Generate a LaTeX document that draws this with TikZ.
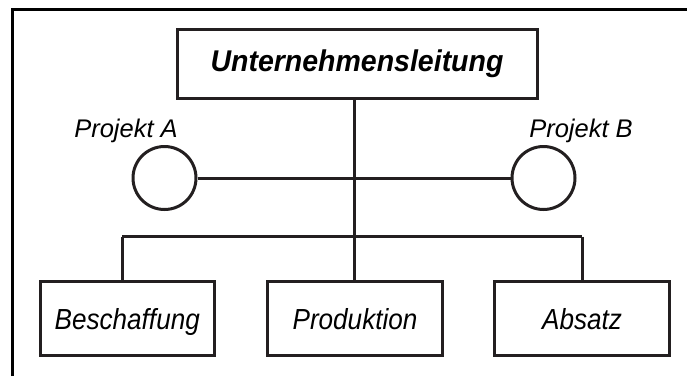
\documentclass[tikz,border=0pt]{standalone}
\usepackage{fontspec}
\setmainfont{Liberation Sans}
\newfontfamily\unitfont{Liberation Sans}[FakeStretch=0.9]
\newfontfamily\headfont{Liberation Sans}[FakeStretch=0.95]
\begin{document}
\begin{tikzpicture}[x=1pt,y=-1pt,
  line/.style={draw=inkgray, line width=3pt},
  unitbox/.style={draw=inkgray, line width=3pt, inner sep=0pt,
    minimum width=175pt, minimum height=74pt,
    text height=21pt, text depth=0pt,
    font=\fontsize{29}{34}\selectfont\unitfont\itshape},
  headbox/.style={draw=inkgray, line width=3pt, inner sep=0pt,
    minimum width=360pt, minimum height=69pt,
    text height=21pt, text depth=7pt,
    font=\fontsize{30}{36}\selectfont\headfont\bfseries\itshape},
  project/.style={draw=inkgray, line width=3pt, circle, inner sep=0pt,
    minimum size=63pt},
  projlabel/.style={anchor=base, inner sep=0pt,
    font=\fontsize{25.5}{30}\selectfont\itshape}
]
\definecolor{inkgray}{HTML}{231F20}
\useasboundingbox (0,0) rectangle (687,376);

% outer frame (top and left edges)
\draw[black, line width=3pt] (12.5,376) -- (12.5,9.5) -- (687,9.5);

% management
\node[headbox] (head) at (357,64) {Unternehmensleitung};

% projects
\node[project] (pa) at (164.5,178) {};
\node[project] (pb) at (543.5,178) {};
\node[projlabel] (la) at (126,137) {Projekt A};
\node[projlabel] (lb) at (581,137) {Projekt B};

% functional units
\node[unitbox, minimum width=173.5pt] (besch) at (127.25,318.5) {Beschaffung};
\node[unitbox] (prod) at (355,318.5) {Produktion};
\node[unitbox] (abs) at (582,318.5) {Absatz};

% connectors
\coordinate (junc) at (354,236.5);
\coordinate (bl) at (122,236.5);
\coordinate (br) at (582,236.5);
\draw[line] (head.south -| junc) -- (junc);
\draw[line] (pa.east) -- (pb.west);
\draw[line] (bl) -- (br);
\draw[line] (bl) -- (bl |- besch.north);
\draw[line] (junc) -- (junc |- prod.north);
\draw[line] (br) -- (abs.north);
\end{tikzpicture}
\end{document}
